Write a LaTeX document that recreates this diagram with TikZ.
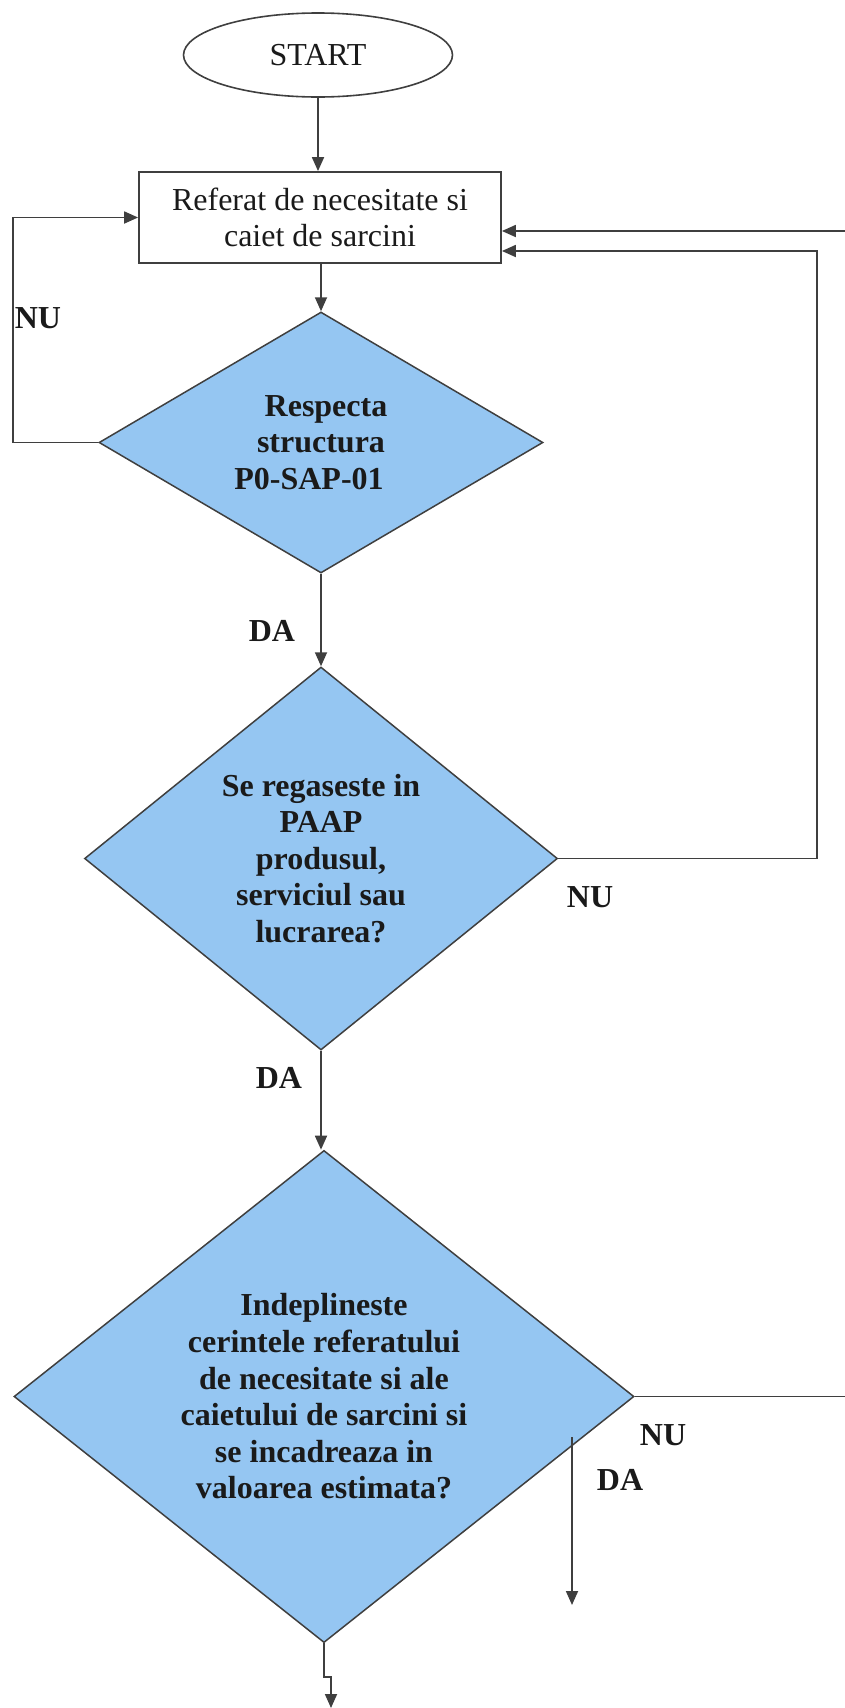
\documentclass[tikz,border=0pt]{standalone}
\usepackage{fontspec}
\setmainfont{Liberation Serif}
\usetikzlibrary{arrows.meta, calc, positioning, shapes.geometric}
\definecolor{fcLine}{HTML}{3F3F3F}
\definecolor{fcBlue}{HTML}{95C6F2}
\definecolor{fcText}{HTML}{1A1A1A}

\begin{document}
\begin{tikzpicture}[x=0.5pt, y=-0.5pt,
  every node/.style={font=\fontsize{16}{18.3}\selectfont, text=fcText},
  term/.style={draw=fcLine, line width=0.8pt, ellipse, minimum width=134.5pt, minimum height=42pt, inner sep=0pt},
  proc/.style={draw=fcLine, line width=0.9pt, rectangle, minimum width=181pt, minimum height=45.5pt,
               align=center, inner sep=0pt},
  decision/.style={draw=fcLine, line width=0.75pt, diamond, fill=fcBlue, align=center, inner sep=0pt,
                   font=\fontsize{16}{18.3}\selectfont\bfseries},
  flow/.style={-{Triangle[length=7pt, width=6pt]}, line width=0.9pt, fcLine},
  link/.style={line width=0.9pt, fcLine},
  lbl/.style={font=\fontsize{16}{18}\selectfont\bfseries}]
  \useasboundingbox (0,0) rectangle (845,1708);
  % start and first step
  \node[term] (start) at (318,55) {START};
  \node[proc] (ref) at (320,217.5) {Referat de necesitate si\\caiet de sarcini};
  % checks
  \node[decision, shape aspect=1.7, minimum width=222pt, minimum height=130.5pt] (d1) at (321,442.5)
    {\hspace*{5pt}Respecta\\structura\\P0-SAP-01\hspace*{12pt}};
  \node[decision, minimum width=236.5pt, minimum height=191.5pt] (d2) at (321,858.5)
    {Se regaseste in\\PAAP\\produsul,\\serviciul sau\\lucrarea?};
  \node[decision, minimum width=310pt, minimum height=243.5pt] (d3) at (324,1396.5)
    {Indeplineste\\cerintele referatului\\de necesitate si ale\\caietului de sarcini si\\se incadreaza in\\valoarea estimata?};
  % free ends
  \coordinate (lpL) at (13,330);
  \coordinate (rtA) at (845,231);
  \coordinate (rtB) at (817,251);
  \coordinate (rtC) at (845,1396.5);
  \coordinate (daT) at (572,1437);
  \coordinate (daB) at (572,1605);
  \coordinate (jog) at (331,1677);
  \coordinate (bot) at (331,1708);
  % connectors
  \draw[flow] (start.south) -- (start.south |- ref.north);
  \draw[flow] (ref.south -| d1.north) -- (d1.north);
  \draw[flow] (d1.west) -| (lpL) |- (ref.west);
  \draw[flow] (d1.south) -- (d2.north);
  \draw[flow] (d2.east) -| (rtB) -- (rtB -| ref.east);
  \draw[flow] (rtA) -- (rtA -| ref.east);
  \draw[flow] (d2.south) -- (d2.south |- d3.north);
  \draw[link] (d3.east) -- (rtC);
  \draw[flow] (daT) -- (daB);
  \draw[flow] (d3.south) |- (jog) -- (bot);
  % answers
  \node[lbl] (nu1) at (38,318) {NU};
  \node[lbl] (da1) at (272,631) {DA};
  \node[lbl] (nu2) at (590,897) {NU};
  \node[lbl] (da2) at (279,1078) {DA};
  \node[lbl] (nu3) at (663,1435) {NU};
  \node[lbl] (da3) at (620,1480) {DA};
\end{tikzpicture}
\end{document}
